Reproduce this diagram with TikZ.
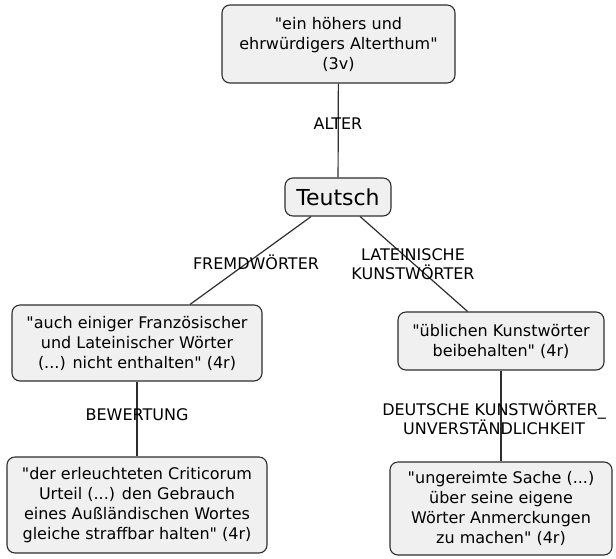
\documentclass[tikz,border=0pt]{standalone}
\usepackage{fontspec}
\setmainfont{DejaVu Sans}[Ligatures=TeXOff]
\definecolor{boxfill}{RGB}{240,240,240}
\definecolor{linecol}{RGB}{45,45,45}
\begin{document}
\begin{tikzpicture}[x=1pt,y=-1pt,
  box/.style={draw=linecol, fill=boxfill, rounded corners=8pt, align=center,
    font=\fontsize{16}{20}\selectfont, line width=1.1pt, inner sep=2pt},
  edge/.style={draw=linecol, line width=1.2pt},
  lbl/.style={align=center, font=\fontsize{16}{19.5}\selectfont, inner sep=0pt}]
\useasboundingbox (0,0) rectangle (616,558);
\node[box, minimum width=233pt, minimum height=78pt] (top) at (338.5,44)
  {"ein höhers und\\ehrwürdigers Alterthum"\\(3v)};
\node[box, minimum width=106pt, minimum height=38pt, font=\fontsize{22}{26}\selectfont] (teutsch) at (338,197) {Teutsch};
\node[box, minimum width=250pt, minimum height=76pt] (lm) at (137,343)
  {"auch einiger Französischer\\und Lateinischer Wörter\\(...) nicht enthalten" (4r)};
\node[box, minimum width=206pt, minimum height=58pt] (rm) at (501,341)
  {"üblichen Kunstwörter\\beibehalten" (4r)};
\node[box, minimum width=260pt, minimum height=96pt] (lb) at (137,505)
  {"der erleuchteten Criticorum\\Urteil (...) den Gebrauch\\eines Außländischen Wortes\\gleiche straffbar halten" (4r)};
\node[box, minimum width=222pt, minimum height=93pt] (rb) at (501,508.5)
  {"ungereimte Sache (...)\\über seine eigene\\Wörter Anmerckungen\\zu machen" (4r)};
\draw[edge] (top) -- (teutsch);
\draw[edge] (teutsch) -- (lm);
\draw[edge] (teutsch) -- (rm);
\draw[edge] (lm) -- (lb);
\draw[edge] (rm) -- (rb);
\node[lbl] (l1) at (338,124) {ALTER};
\node[lbl] (l2) at (256,262) {FREMDWÖRTER};
\node[lbl] (l3) at (413,264) {LATEINISCHE\\KUNSTWÖRTER};
\node[lbl] (l4) at (137,415) {BEWERTUNG};
\node[lbl] (l5) at (494,418) {DEUTSCHE KUNSTWÖRTER\_\\UNVERSTÄNDLICHKEIT};
\end{tikzpicture}
\end{document}
